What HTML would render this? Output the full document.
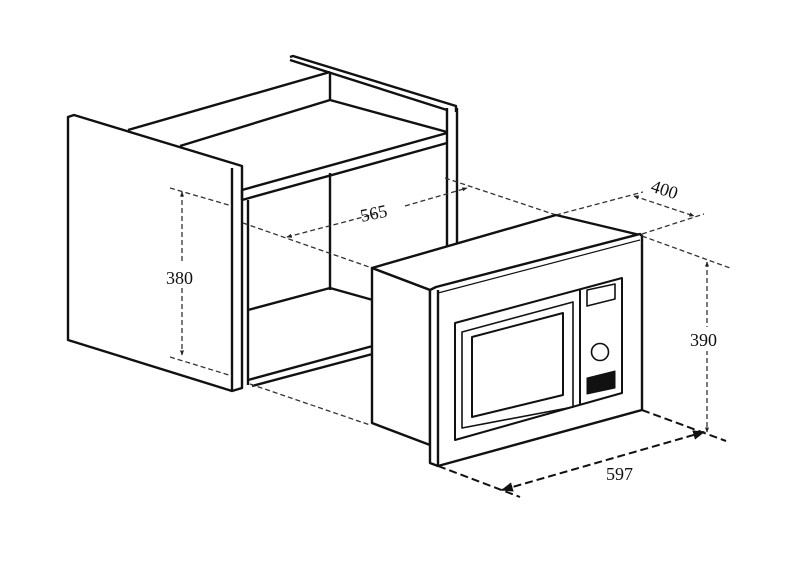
<!DOCTYPE html>
<html><head><style>html,body{margin:0;padding:0;background:#fff}svg{display:block}</style></head>
<body>
<svg width="800" height="580" viewBox="0 0 800 580" xmlns="http://www.w3.org/2000/svg" font-family="Liberation Serif, serif">
<defs>
<marker id="a" viewBox="0 0 10 10" refX="9" refY="5" markerWidth="6" markerHeight="6" orient="auto-start-reverse"><path d="M0,1 L10,5 L0,9 z" fill="#111"/></marker>
<marker id="b" viewBox="0 0 10 10" refX="9" refY="5" markerWidth="4" markerHeight="4" orient="auto-start-reverse"><path d="M0,1 L10,5 L0,9 z" fill="#222"/></marker>
</defs>
<g fill="none" stroke="#111" stroke-width="2.4" stroke-linejoin="round">
<!-- cabinet side panel -->
<path d="M68,117 L74,115 L242,166 L242,388 L232,391 L68,340 Z" fill="#fff"/>
<path d="M232,168 L232,391"/>
<!-- back rail -->
<path d="M290,57 L293,56 L456,106 L456,112"/>
<path d="M290,60 L447,110"/>
<path d="M447,108 L447,275"/><path d="M457,108 L457,275"/>
<!-- top board -->
<path d="M128,130 L330,72"/>
<path d="M330,72 L330,100"/>
<path d="M180,146 L330,100 L447,132"/>
<path d="M242,190 L447,133"/>
<path d="M242,200 L447,143"/>
<path d="M242,190 L242,200"/>
<!-- inner opening -->
<path d="M248,200 L248,385"/>
<path d="M330,173 L330,290"/>
<path d="M248,310 L330,288 L380,302"/>
<path d="M248,380 L380,344"/>
<path d="M252,386 L380,352"/>
</g>
<g fill="none" stroke="#333" stroke-width="1.3" stroke-dasharray="5,3">
<path d="M243,223 L372,268"/>
<path d="M445,178 L556,215"/>
<path d="M250,384 L370,425"/>
</g>
<g fill="none" stroke="#111" stroke-width="2.4" stroke-linejoin="round">
<!-- microwave box -->
<path d="M372,268 L556,215 L640,235 L430,290 Z" fill="#fff"/>
<path d="M372,268 L430,290 L430,445 L372,423 Z" fill="#fff"/>
<!-- frame -->
<path d="M430,290 L436,287 L640,234 L642,236 L642,410 L438,466 L430,463 Z" fill="#fff"/>
<path d="M438,290 L438,466"/>
<path d="M438,293 L640,240" stroke-width="1.2"/>
<!-- door -->
<path d="M455,323 L622,278 L622,393 L455,440 Z" stroke-width="2"/>
<path d="M580,290 L580,405" stroke-width="2"/>
<path d="M462,332 L573,302 L573,407 L462,428 Z" stroke-width="1.6"/>
<path d="M472,337 L563,313 L563,395 L472,417 Z" stroke-width="2"/>
<path d="M587,290 L615,284 L615,299 L587,306 Z" stroke-width="1.6"/>
<circle cx="600" cy="352" r="8.5" stroke-width="1.6"/>
<path d="M587,378 L615,371 L615,388 L587,394 Z" fill="#111" stroke-width="1"/>
</g>
<!-- dimension lines -->
<g fill="none" stroke="#333" stroke-width="1.3" stroke-dasharray="5,3">
<path d="M170,188 L232,206"/>
<path d="M170,357 L232,376"/>
<path d="M182,192 L182,355" marker-start="url(#b)" marker-end="url(#b)"/>
<path d="M287,237 L375,214" marker-start="url(#b)"/>
<path d="M405,206 L467,188" marker-end="url(#b)"/>
<path d="M556,215 L643,192"/>
<path d="M634,196 L694,216" marker-start="url(#b)" marker-end="url(#b)"/>
<path d="M642,234 L704,214"/>
<path d="M642,236 L730,268"/>
<path d="M707,262 L707,432" marker-start="url(#b)" marker-end="url(#b)"/>
</g>
<g fill="none" stroke="#111" stroke-width="2" stroke-dasharray="8,4">
<path d="M642,410 L726,441"/>
<path d="M438,466 L520,497"/>
<path d="M502,490 L704,432" marker-start="url(#a)" marker-end="url(#a)"/>
</g>
<rect x="166" y="264" width="34" height="24" fill="#fff"/>
<rect x="690" y="327" width="34" height="24" fill="#fff"/>
<g font-size="18" fill="#111">
<text x="166" y="284">380</text>
<text x="360" y="219" transform="rotate(-12 375 212)">565</text>
<text x="651" y="196" transform="rotate(18 666 190)">400</text>
<text x="690" y="346">390</text>
<text x="606" y="480">597</text>
</g>
</svg>
</body></html>
